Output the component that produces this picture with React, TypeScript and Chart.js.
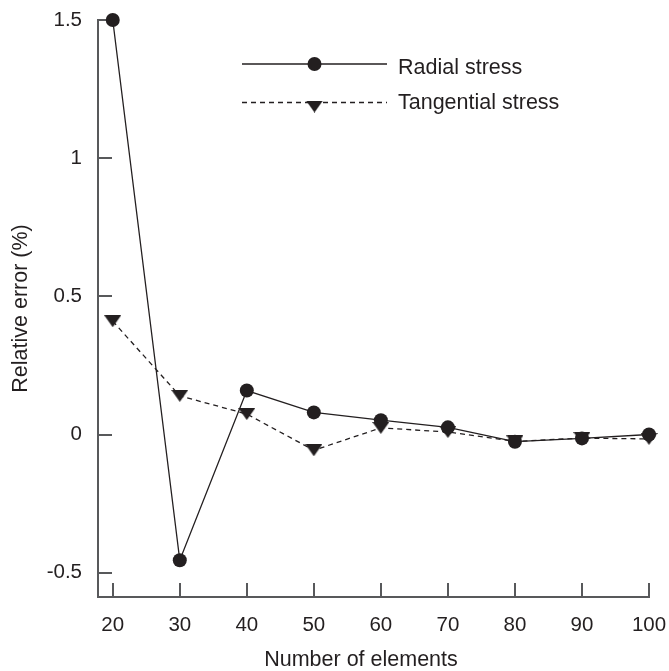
import React, { useEffect, useRef } from "react";
import { Chart, registerables } from "chart.js";

Chart.register(...registerables);

// ---- data ----
const numberOfElements = [20, 30, 40, 50, 60, 70, 80, 90, 100];
const radialStress = [1.5, -0.455, 0.159, 0.08, 0.052, 0.026, -0.026, -0.014, 0.0];
const tangentialStress = [0.41, 0.14, 0.074, -0.057, 0.024, 0.009, -0.025, -0.013, -0.016];

const xTickValues = [20, 30, 40, 50, 60, 70, 80, 90, 100];
const yTickValues = [-0.5, 0, 0.5, 1, 1.5];
const yTickLabels = ["-0.5", "0", "0.5", "1", "1.5"];

const seriesNames = ["Radial stress", "Tangential stress"];
const xTitle = "Number of elements";
const yTitle = "Relative error (%)";

// ---- style ----
const FONT = "'Liberation Sans', Arial, Helvetica, sans-serif";
const INK = "#231f20";
const AXIS = "#58595b";
const TITLE_SIZE = 21.5;
const TICK_SIZE = 20.5;

function makeDownTriangle(w: number, h: number, color: string) {
  const c = document.createElement("canvas");
  c.width = w;
  c.height = h;
  const ctx = c.getContext("2d")!;
  ctx.fillStyle = color;
  ctx.beginPath();
  ctx.moveTo(0, 0);
  ctx.lineTo(w, 0);
  ctx.lineTo(w / 2, h);
  ctx.closePath();
  ctx.fill();
  return c;
}

const zeroScalePadding = (s: any) => {
  s.paddingTop = 0;
  s.paddingBottom = 0;
  s.paddingLeft = 0;
  s.paddingRight = 0;
};

const inwardTicks = {
  id: "inwardTicks",
  beforeDatasetsDraw(chart: any) {
    const { ctx, chartArea, scales } = chart;
    const len = 14;
    ctx.save();
    ctx.strokeStyle = AXIS;
    ctx.lineWidth = 2;
    ctx.beginPath();
    scales.x.ticks.forEach((t: any) => {
      const px = Math.round(scales.x.getPixelForValue(t.value));
      ctx.moveTo(px, chartArea.bottom);
      ctx.lineTo(px, chartArea.bottom - len);
    });
    scales.y.ticks.forEach((t: any) => {
      const py = Math.round(scales.y.getPixelForValue(t.value));
      ctx.moveTo(chartArea.left, py);
      ctx.lineTo(chartArea.left + len, py);
    });
    ctx.stroke();
    ctx.restore();
  },
  afterDraw(chart: any) {
    const { ctx } = chart;
    ctx.save();
    ctx.fillStyle = INK;
    ctx.font = `${TITLE_SIZE}px ${FONT}`;
    ctx.textAlign = "center";
    ctx.textBaseline = "alphabetic";
    ctx.fillText(xTitle, 361, 666);
    ctx.restore();
  },
};

const lineLegend = {
  id: "lineLegend",
  afterDatasetsDraw(chart: any) {
    const { ctx } = chart;
    const x0 = 242;
    const x1 = 387;
    const xm = 314.5;
    const rows = [64, 102.5];
    const baselines = [73.5, 108.5];
    ctx.save();
    chart.data.datasets.forEach((ds: any, i: number) => {
      const y = rows[i];
      ctx.strokeStyle = ds.borderColor;
      ctx.lineWidth = ds.borderWidth;
      ctx.setLineDash(ds.borderDash || []);
      ctx.beginPath();
      ctx.moveTo(x0, y);
      ctx.lineTo(x1, y);
      ctx.stroke();
      ctx.setLineDash([]);
      if (ds.pointStyle === "circle") {
        ctx.fillStyle = ds.pointBackgroundColor;
        ctx.beginPath();
        ctx.arc(xm, y, ds.pointRadius, 0, Math.PI * 2);
        ctx.fill();
      } else {
        const img = ds.pointStyle as HTMLCanvasElement;
        ctx.drawImage(img, xm - img.width / 2, y - 2);
      }
      ctx.fillStyle = INK;
      ctx.font = `${TITLE_SIZE}px ${FONT}`;
      ctx.textAlign = "left";
      ctx.textBaseline = "alphabetic";
      ctx.fillText(ds.label, 398, baselines[i]);
    });
    ctx.restore();
  },
};

export default function App() {
  const ref = useRef<HTMLCanvasElement | null>(null);

  useEffect(() => {
    if (!ref.current) return;
    const tri = makeDownTriangle(17, 12, INK);
    const chart = new Chart(ref.current, {
      type: "line",
      data: {
        datasets: [
          {
            label: seriesNames[0],
            data: numberOfElements.map((x, i) => ({ x, y: radialStress[i] })),
            borderColor: INK,
            borderWidth: 1.3,
            pointStyle: "circle",
            pointRadius: 7,
            pointBackgroundColor: INK,
            pointBorderWidth: 0,
            pointBorderColor: INK,
            clip: false,
            tension: 0,
          } as any,
          {
            label: seriesNames[1],
            data: numberOfElements.map((x, i) => ({ x, y: tangentialStress[i] })),
            borderColor: INK,
            borderWidth: 1.3,
            borderDash: [5, 4],
            pointStyle: tri,
            pointRadius: 8,
            pointBackgroundColor: INK,
            pointBorderWidth: 0,
            clip: false,
            tension: 0,
          } as any,
        ],
      },
      options: {
        animation: false,
        responsive: false,
        devicePixelRatio: 1,
        layout: { padding: { left: 0, top: 20, right: 20, bottom: 0 } },
        plugins: {
          legend: { display: false },
          tooltip: { enabled: false },
        },
        scales: {
          x: {
            type: "linear",
            min: 17.8,
            max: 100,
            afterBuildTicks: (s: any) => {
              s.ticks = xTickValues.map((v) => ({ value: v }));
            },
            afterFit: (s: any) => {
              s.height = 74;
              zeroScalePadding(s);
            },
            grid: { display: false, drawTicks: false },
            border: { display: true, color: AXIS, width: 2 },
            ticks: {
              padding: 16,
              color: INK,
              font: { family: FONT, size: TICK_SIZE },
              maxRotation: 0,
              autoSkip: false,
              callback: (v: any) => String(v),
            },
            title: { display: false, text: xTitle },
          },
          y: {
            type: "linear",
            min: -0.588,
            max: 1.5,
            afterBuildTicks: (s: any) => {
              s.ticks = yTickValues.map((v) => ({ value: v }));
            },
            afterFit: (s: any) => {
              s.width = 98;
              zeroScalePadding(s);
            },
            grid: { display: false, drawTicks: false },
            border: { display: true, color: AXIS, width: 2 },
            ticks: {
              padding: 16,
              color: INK,
              font: { family: FONT, size: TICK_SIZE },
              autoSkip: false,
              callback: (v: any) => {
                const i = yTickValues.indexOf(Number(v));
                return i >= 0 ? yTickLabels[i] : "";
              },
            },
            title: {
              display: true,
              text: yTitle,
              color: INK,
              font: { family: FONT, size: TITLE_SIZE },
              padding: { top: 8, bottom: 0 },
            },
          },
        },
      },
      plugins: [inwardTicks, lineLegend],
    });
    return () => chart.destroy();
  }, []);

  return (
    <div style={{ position: "absolute", left: 0, top: 0, width: 669, height: 671, background: "#fff" }}>
      <canvas ref={ref} width={669} height={671} style={{ display: "block" }} />
    </div>
  );
}
